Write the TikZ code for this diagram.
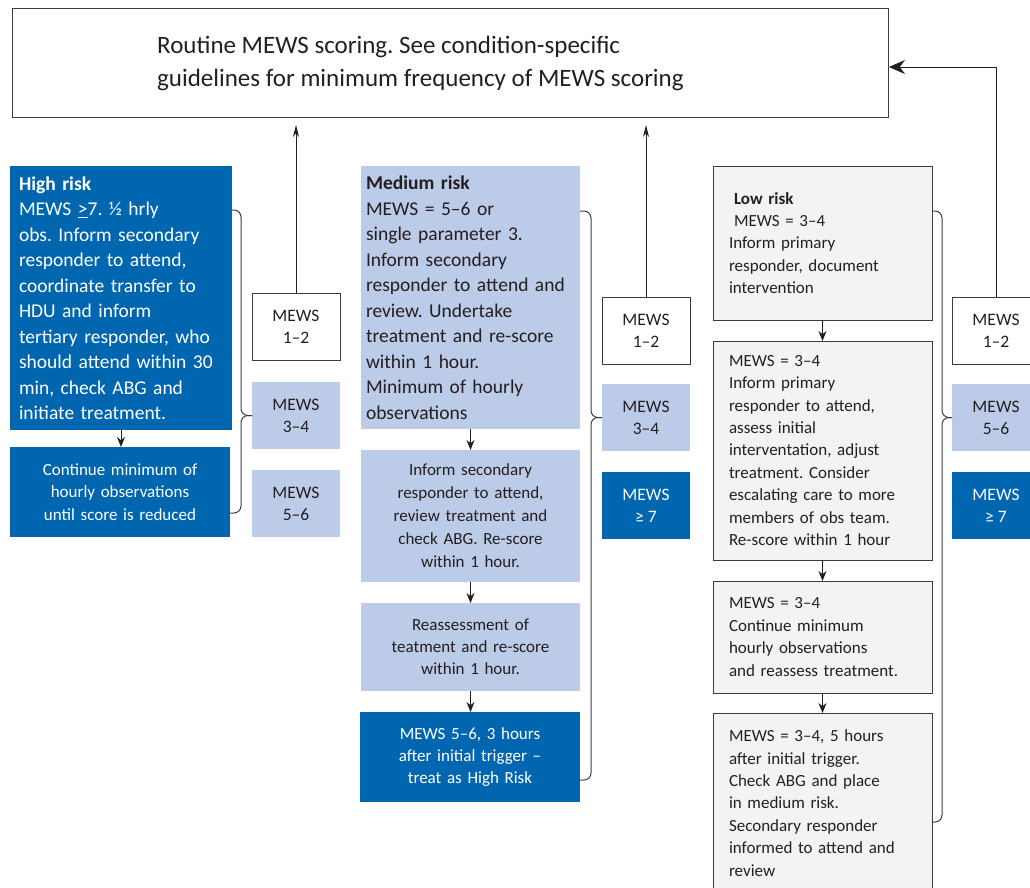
\documentclass[tikz,border=0pt]{standalone}
\usepackage{fontspec}
\setmainfont{Carlito}
\usetikzlibrary{arrows.meta,positioning}

\definecolor{hiblue}{RGB}{0,102,176}
\definecolor{medblue}{RGB}{188,203,232}
\definecolor{lowgrey}{RGB}{242,244,243}
\definecolor{ink}{RGB}{35,31,32}
\definecolor{rim}{RGB}{60,60,60}

\frenchspacing

\tikzset{
  box/.style={anchor=north west, outer sep=0pt, inner ysep=0pt, text=ink},
  hibox/.style={box, fill=hiblue, text=white},
  medbox/.style={box, fill=medblue},
  lowbox/.style={box, fill=lowgrey, draw=rim, line width=1pt, inner xsep=16pt, text width=187pt, align=left, font=\fontsize{17}{22.4}\selectfont},
  score/.style={anchor=north west, outer sep=0pt, inner sep=0pt, minimum width=88pt, minimum height=67pt, align=center, text=ink, font=\fontsize{17.5}{22}\selectfont},
  godown/.style={-{Stealth[length=10pt,width=8pt]}, line width=1pt, draw=ink},
  goback/.style={-{Stealth[length=12pt,width=6pt]}, line width=0.8pt, draw=ink, shorten >=7pt},
  brace/.style={rounded corners=7pt, line width=1pt, draw=rim}
}

\begin{document}
\begin{tikzpicture}[x=1pt,y=-1pt]
             \useasboundingbox (0,0) rectangle (1030,887);

             \node[draw=rim, line width=1pt, anchor=north west, minimum width=876pt, minimum height=109pt, inner sep=0pt] (top) at (12,8) {};
             \node[anchor=west, align=left, inner sep=0pt, text=ink, font=\fontsize{25}{33}\selectfont] (toptext) at (157,63)
               {Routine MEWS scoring. See condition-specific\\ guidelines for minimum frequency of MEWS scoring};

             % high risk
             \node[hibox, inner xsep=9pt, text width=204pt, minimum height=264pt, align=left, font=\fontsize{19.5}{25.5}\selectfont] (hr) at (10,166)
               {\textbf{High risk}\\ MEWS \underline{>}7. ½ hrly\\ obs. Inform secondary\\ responder to attend,\\ coordinate transfer to\\ HDU and inform\\ tertiary responder, who\\ should attend within 30\\ min, check ABG and\\ initiate treatment.};
             \node[hibox, inner xsep=8pt, text width=204pt, minimum height=90pt, align=center, font=\fontsize{17}{22.5}\selectfont] (hc) at (10,447)
               {Continue minimum of\\ hourly observations\\ until score is reduced};

             \node[score, draw=rim, line width=1pt] (s1a) at (252,293) {MEWS\\ 1–2};
             \node[score, fill=medblue] (s1b) at (252,382) {MEWS\\ 3–4};
             \node[score, fill=medblue] (s1c) at (252,470) {MEWS\\ 5–6};

             % medium risk
             \node[medbox, inner xsep=5pt, text width=209pt, minimum height=263pt, align=left, font=\fontsize{19.5}{25.5}\selectfont] (mr) at (361,166)
               {\textbf{Medium risk}\\ MEWS = 5–6 or\\ single parameter 3.\\ Inform secondary\\ responder to attend and\\ review. Undertake\\ treatment and re-score\\ within 1 hour.\\ Minimum of hourly\\ observations};
             \node[medbox, inner xsep=5pt, text width=209pt, minimum height=132pt, align=center, font=\fontsize{17}{23}\selectfont] (m2) at (361,450)
               {Inform secondary\\ responder to attend,\\ review treatment and\\ check ABG. Re-score\\ within 1 hour.};
             \node[medbox, inner xsep=5pt, text width=209pt, minimum height=88pt, align=center, font=\fontsize{17}{22}\selectfont] (m3) at (361,603)
               {Reassessment of\\ teatment and re-score\\ within 1 hour.};
             \node[hibox, inner xsep=5pt, text width=210pt, minimum height=90pt, align=center, font=\fontsize{17}{22}\selectfont] (m4) at (360,712)
               {MEWS 5–6, 3 hours\\ after initial trigger –\\ treat as High Risk};

             \node[score, draw=rim, line width=1pt] (s2a) at (602,297) {MEWS\\ 1–2};
             \node[score, fill=medblue] (s2b) at (602,384) {MEWS\\ 3–4};
             \node[score, fill=hiblue, text=white] (s2c) at (602,472) {MEWS\\ ≥ 7};

             % low risk
             \node[lowbox, minimum height=154pt] (l1) at (713,166)
               {\hspace*{5pt}\textbf{Low risk}\\ \hspace*{5pt}MEWS = 3–4\\ Inform primary\\ responder, document\\ intervention};
             \node[lowbox, minimum height=219pt] (l2) at (713,341)
               {MEWS = 3–4\\ Inform primary\\ responder to attend,\\ assess initial\\ interventation, adjust\\ treatment. Consider\\ escalating care to more\\ members of obs team.\\ Re-score within 1 hour};
             \node[lowbox, minimum height=112pt] (l3) at (713,581)
               {MEWS = 3–4\\ Continue minimum\\ hourly observations\\ and reassess treatment.};
             \node[lowbox, minimum height=180pt] (l4) at (713,713)
               {MEWS = 3–4, 5 hours\\ after initial trigger.\\ Check ABG and place\\ in medium risk.\\ Secondary responder\\ informed to attend and\\ review};

             \node[score, draw=rim, line width=1pt] (s3a) at (952,297) {MEWS\\ 1–2};
             \node[score, fill=medblue] (s3b) at (952,384) {MEWS\\ 5–6};
             \node[score, fill=hiblue, text=white] (s3c) at (952,472) {MEWS\\ ≥ 7};

             % flow down each column
             \draw[godown] (hr.south) -- (hr.south |- hc.north);
             \draw[godown] (mr.south) -- (mr.south |- m2.north);
             \draw[godown] (m2.south) -- (m2.south |- m3.north);
             \draw[godown] (m3.south) -- (m3.south |- m4.north);
             \draw[godown] (l1.south) -- (l1.south |- l2.north);
             \draw[godown] (l2.south) -- (l2.south |- l3.north);
             \draw[godown] (l3.south) -- (l3.south |- l4.north);

             % back to routine scoring
             \draw[goback] (s1a.north) -- (s1a.north |- top.south);
             \draw[goback] (s2a.north) -- (s2a.north |- top.south);
             \draw[-{Stealth[length=16pt,width=14pt]}, line width=0.8pt, draw=ink] (s3a.north) |- ([yshift=-4pt]top.east);

             % braces
             \draw[brace] ([yshift=-44pt]hr.north east) -- ++(9,0) |- (s1b.west);
             \draw[brace] (s1b.west) -| ([xshift=11pt,yshift=24pt]hc.south east) -- ([yshift=24pt]hc.south east);
             \draw[brace] ([yshift=-45pt]mr.north east) -- ++(11,0) |- (s2b.west);
             \draw[brace] (s2b.west) -| ([xshift=11pt,yshift=22pt]m4.south east) -- ([yshift=22pt]m4.south east);
             \draw[brace] ([yshift=-45pt]l1.north east) -- ++(10,0) |- (s3b.west);
             \draw[brace] (s3b.west) -| ([xshift=10pt,yshift=-109pt]l4.north east) -- ([yshift=-109pt]l4.north east);
             \end{tikzpicture}
\end{document}
